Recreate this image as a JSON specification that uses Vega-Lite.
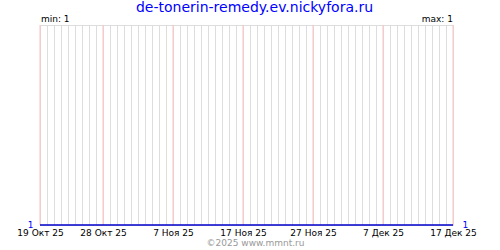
{
  "$schema": "https://vega.github.io/schema/vega-lite/v6.json",
  "width": 413,
  "height": 200,
  "autosize": "none",
  "padding": {"left": 40, "top": 25, "right": 47, "bottom": 25},
  "background": "white",
  "config": {
    "view": {"stroke": "#dddddd", "strokeWidth": 1},
    "font": "DejaVu Sans"
  },
  "title": {
    "text": "de-tonerin-remedy.ev.nickyfora.ru",
    "color": "#0000ff",
    "fontSize": 14,
    "fontWeight": "normal",
    "font": "DejaVu Sans",
    "anchor": "middle",
    "frame": "group",
    "baseline": "alphabetic",
    "offset": 1,
    "dy": 12,
    "dx": 8
  },
  "datasets": {
    "series": [
      {"date": "2025-10-19", "v": 1}, {"date": "2025-10-20", "v": 1}, {"date": "2025-10-21", "v": 1},
      {"date": "2025-10-22", "v": 1}, {"date": "2025-10-23", "v": 1}, {"date": "2025-10-24", "v": 1},
      {"date": "2025-10-25", "v": 1}, {"date": "2025-10-26", "v": 1}, {"date": "2025-10-27", "v": 1},
      {"date": "2025-10-28", "v": 1}, {"date": "2025-10-29", "v": 1}, {"date": "2025-10-30", "v": 1},
      {"date": "2025-10-31", "v": 1}, {"date": "2025-11-01", "v": 1}, {"date": "2025-11-02", "v": 1},
      {"date": "2025-11-03", "v": 1}, {"date": "2025-11-04", "v": 1}, {"date": "2025-11-05", "v": 1},
      {"date": "2025-11-06", "v": 1}, {"date": "2025-11-07", "v": 1}, {"date": "2025-11-08", "v": 1},
      {"date": "2025-11-09", "v": 1}, {"date": "2025-11-10", "v": 1}, {"date": "2025-11-11", "v": 1},
      {"date": "2025-11-12", "v": 1}, {"date": "2025-11-13", "v": 1}, {"date": "2025-11-14", "v": 1},
      {"date": "2025-11-15", "v": 1}, {"date": "2025-11-16", "v": 1}, {"date": "2025-11-17", "v": 1},
      {"date": "2025-11-18", "v": 1}, {"date": "2025-11-19", "v": 1}, {"date": "2025-11-20", "v": 1},
      {"date": "2025-11-21", "v": 1}, {"date": "2025-11-22", "v": 1}, {"date": "2025-11-23", "v": 1},
      {"date": "2025-11-24", "v": 1}, {"date": "2025-11-25", "v": 1}, {"date": "2025-11-26", "v": 1},
      {"date": "2025-11-27", "v": 1}, {"date": "2025-11-28", "v": 1}, {"date": "2025-11-29", "v": 1},
      {"date": "2025-11-30", "v": 1}, {"date": "2025-12-01", "v": 1}, {"date": "2025-12-02", "v": 1},
      {"date": "2025-12-03", "v": 1}, {"date": "2025-12-04", "v": 1}, {"date": "2025-12-05", "v": 1},
      {"date": "2025-12-06", "v": 1}, {"date": "2025-12-07", "v": 1}, {"date": "2025-12-08", "v": 1},
      {"date": "2025-12-09", "v": 1}, {"date": "2025-12-10", "v": 1}, {"date": "2025-12-11", "v": 1},
      {"date": "2025-12-12", "v": 1}, {"date": "2025-12-13", "v": 1}, {"date": "2025-12-14", "v": 1},
      {"date": "2025-12-15", "v": 1}, {"date": "2025-12-16", "v": 1}, {"date": "2025-12-17", "v": 1}
    ],
    "marks": [
      {"date": "2025-10-19"}, {"date": "2025-10-28"}, {"date": "2025-11-07"},
      {"date": "2025-11-17"}, {"date": "2025-11-27"}, {"date": "2025-12-07"}, {"date": "2025-12-17"}
    ],
    "labels": [
      {"date": "2025-10-19", "text": "min: 1", "side": "min"},
      {"date": "2025-12-17", "text": "max: 1", "side": "max"}
    ]
  },
  "layer": [
    {
      "data": {"name": "marks"},
      "mark": {"type": "rule", "color": "#ffc0c0", "strokeWidth": 1},
      "encoding": {
        "x": {
          "field": "date",
          "type": "temporal",
          "scale": {"type": "utc", "domain": [{"year": 2025, "month": 10, "date": 19, "utc": true}, {"year": 2025, "month": 12, "date": 17, "utc": true}], "nice": false},
          "axis": {
            "orient": "top",
            "tickCount": {"interval": "day", "step": 1},
            "grid": true,
            "gridColor": "#dddddd",
            "gridOpacity": 1,
            "labels": false,
            "ticks": false,
            "domain": false,
            "title": null
          }
        }
      }
    },
    {
      "data": {"name": "series"},
      "mark": {"type": "line", "color": "#0000cc", "strokeWidth": 1.5, "interpolate": "linear"},
      "encoding": {
        "x": {
          "field": "date",
          "type": "temporal",
          "axis": {
            "orient": "bottom",
            "values": [
              {"year": 2025, "month": 10, "date": 19, "utc": true},
              {"year": 2025, "month": 10, "date": 28, "utc": true},
              {"year": 2025, "month": 11, "date": 7, "utc": true},
              {"year": 2025, "month": 11, "date": 17, "utc": true},
              {"year": 2025, "month": 11, "date": 27, "utc": true},
              {"year": 2025, "month": 12, "date": 7, "utc": true},
              {"year": 2025, "month": 12, "date": 17, "utc": true}
            ],
            "labelExpr": "utcdate(datum.value) + ' ' + ['Янв','Фев','Мар','Апр','Май','Июн','Июл','Авг','Сен','Окт','Ноя','Дек'][utcmonth(datum.value)] + ' ' + utcFormat(datum.value, '%y')",
            "grid": false,
            "ticks": false,
            "tickSize": 0,
            "domain": false,
            "labelPadding": 3,
            "labelFontSize": 9,
            "labelColor": "#000000",
            "labelFont": "DejaVu Sans",
            "labelOverlap": false,
            "labelFlush": false,
            "title": "©2025 www.mmnt.ru",
            "titleColor": "#999999",
            "titleFontSize": 9,
            "titleFontWeight": "normal",
            "titleFont": "DejaVu Sans",
            "titlePadding": 1,
            "titleX": 215,
            "titleAnchor": "middle"
          }
        },
        "y": {
          "field": "v",
          "type": "quantitative",
          "scale": {"domain": [1, 2], "nice": false, "zero": false},
          "axis": {
            "orient": "left",
            "values": [1],
            "grid": false,
            "ticks": false,
            "tickSize": 0,
            "domain": false,
            "labelColor": "#0000ff",
            "labelFontSize": 9,
            "labelPadding": 7,
            "labelBaseline": "alphabetic",
            "labelOffset": 2,
            "title": null
          }
        }
      }
    },
    {
      "data": {"name": "series"},
      "mark": {"type": "line", "opacity": 0},
      "encoding": {
        "x": {"field": "date", "type": "temporal", "axis": null},
        "y": {
          "field": "v",
          "type": "quantitative",
          "axis": {
            "orient": "right",
            "values": [1],
            "grid": false,
            "ticks": false,
            "tickSize": 0,
            "domain": false,
            "labelColor": "#0000ff",
            "labelFontSize": 9,
            "labelPadding": 9,
            "labelBaseline": "alphabetic",
            "labelOffset": 2,
            "title": null
          }
        }
      }
    },
    {
      "data": {"name": "labels"},
      "transform": [{"filter": "datum.side === 'min'"}],
      "mark": {"type": "text", "align": "left", "baseline": "alphabetic", "dy": -3, "dx": 1, "fontSize": 9, "font": "DejaVu Sans", "color": "#000000"},
      "encoding": {
        "x": {"field": "date", "type": "temporal", "axis": null},
        "y": {"datum": 2, "type": "quantitative", "axis": null},
        "text": {"field": "text"}
      }
    },
    {
      "data": {"name": "labels"},
      "transform": [{"filter": "datum.side === 'max'"}],
      "mark": {"type": "text", "align": "right", "baseline": "alphabetic", "dy": -3, "dx": 0, "fontSize": 9, "font": "DejaVu Sans", "color": "#000000"},
      "encoding": {
        "x": {"field": "date", "type": "temporal", "axis": null},
        "y": {"datum": 2, "type": "quantitative", "axis": null},
        "text": {"field": "text"}
      }
    }
  ],
  "resolve": {"axis": {"x": "independent", "y": "independent"}}
}
